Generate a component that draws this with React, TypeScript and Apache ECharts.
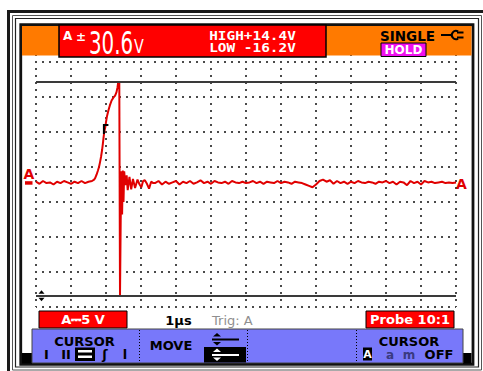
import React, { useEffect, useRef } from 'react';
import * as echarts from 'echarts';

// ---- waveform data: [time (µs), volts] ----
const preTrigger: [number, number][] = [
  [0.0, 0.1], [0.1, -0.2], [0.2, 0.2], [0.3, -0.1], [0.4, 0.0], [0.5, -0.3], [0.6, 0.1], [0.7, -0.1],
  [0.8, 0.2], [0.9, 0.0], [1.0, -0.2], [1.1, 0.1], [1.2, -0.1], [1.3, 0.2], [1.4, -0.1], [1.5, 0.1], [1.6, 0.2],
];
const risingEdge: [number, number][] = [
  [1.62, 0.2], [1.66, 0.4], [1.69, 0.6], [1.73, 1.1], [1.77, 1.7], [1.8, 2.2], [1.83, 2.9], [1.86, 3.7],
  [1.89, 4.7], [1.91, 5.5], [1.93, 6.4], [1.95, 7.2], [1.98, 7.9], [2.0, 8.6], [2.03, 9.5], [2.07, 10.3],
  [2.11, 11.0], [2.16, 11.7], [2.21, 12.1], [2.26, 12.4], [2.3, 12.9], [2.33, 13.6], [2.35, 14.4], [2.38, 14.2],
  [2.4, -16.2],
];
const ringing: [number, number][] = [
  [2.42, -5.4], [2.44, 1.6], [2.46, -4.6], [2.48, 1.7], [2.5, -2.8], [2.52, 1.6], [2.55, -0.4], [2.59, 1.0],
  [2.62, -1.1], [2.67, 0.8], [2.72, -1.0], [2.77, 0.5], [2.83, -0.8], [2.9, 0.4], [2.96, -0.3], [3.01, -0.7],
  [3.06, 0.2], [3.11, 0.3], [3.17, -0.2], [3.23, -0.9], [3.29, 0.1], [3.35, -0.1],
];
const tail: [number, number][] = [
  [3.4, -0.1], [3.5, 0.2], [3.6, -0.3], [3.7, 0.1], [3.8, -0.2], [3.9, 0.0], [4.0, 0.2], [4.1, -0.3], [4.2, 0.1], [4.3, -0.1],
  [4.4, 0.2], [4.5, -0.2], [4.6, 0.0], [4.7, 0.3], [4.8, -0.1], [4.9, 0.1], [5.0, -0.2], [5.1, 0.2], [5.2, 0.0], [5.3, -0.1],
  [5.4, 0.1], [5.5, -0.2], [5.6, 0.2], [5.7, 0.0], [5.8, -0.1], [5.9, 0.1], [6.0, -0.1], [6.1, 0.0], [6.2, 0.2], [6.3, -0.1],
  [6.4, 0.1], [6.5, -0.2], [6.6, 0.1], [6.7, 0.0], [6.8, -0.1], [6.9, 0.2], [7.0, -0.1], [7.1, 0.1], [7.2, 0.0], [7.3, -0.2],
  [7.4, 0.1], [7.5, 0.0], [7.6, -0.1], [7.7, -0.3], [7.8, -0.5], [7.9, -0.7], [8.0, -0.3], [8.1, 0.2], [8.2, 0.4], [8.3, 0.1],
  [8.4, 0.3], [8.5, -0.2], [8.6, 0.2], [8.7, -0.1], [8.8, 0.1], [8.9, -0.2], [9.0, 0.1], [9.1, -0.1], [9.2, 0.2], [9.3, 0.0],
  [9.4, -0.1], [9.5, 0.1], [9.6, 0.0], [9.7, -0.2], [9.8, 0.1], [9.9, 0.0], [10.0, 0.2], [10.1, -0.1], [10.2, 0.1], [10.3, -0.3],
  [10.4, 0.1], [10.5, 0.0], [10.6, -0.4], [10.7, 0.2], [10.8, -0.1], [10.9, 0.1], [11.0, -0.3], [11.1, 0.2], [11.2, 0.0], [11.3, 0.1],
  [11.4, -0.1], [11.5, 0.0], [11.6, 0.1], [11.7, -0.1], [11.8, 0.0], [11.9, -0.1], [12.0, 0.0],
];

const cursorLevels = [14.4, -16.2]; // HIGH, LOW
const triggerPoint: [number, number] = [1.94, 8.2];
const headerTexts = ['30.6', 'HIGH+14.4V', 'LOW -16.2V', 'SINGLE', 'HOLD'];
const footerTexts = ['A⎓5 V', '1µs', 'Trig: A', 'Probe 10:1'];
const menuTexts = ['CURSOR', 'MOVE', 'CURSOR', 'OFF'];

const SANS = '"DejaVu Sans"';
const MONO = '"DejaVu Sans Mono"';

function rect(x: number, y: number, w: number, h: number, fill: string, stroke?: string, lw = 1, z = 50): any {
  return { type: 'rect', z, shape: { x, y, width: w, height: h }, style: { fill, stroke: stroke || null, lineWidth: stroke ? lw : 0 } };
}
function text(x: number, y: number, t: string, font: string, fill: string, align = 'center', extra: any = {}): any {
  return {
    type: 'text', z: 60, x, y, ...extra,
    style: { text: t, font, fill, textAlign: align, textVerticalAlign: 'middle' },
  };
}
function line(x1: number, y1: number, x2: number, y2: number, stroke: string, lw = 1, dash?: number[]): any {
  return { type: 'line', z: 60, shape: { x1, y1, x2, y2 }, style: { stroke, lineWidth: lw, lineDash: dash || null } };
}
function poly(points: number[][], fill: string): any {
  return { type: 'polygon', z: 60, shape: { points }, style: { fill } };
}

export default function App() {
  const ref = useRef<HTMLDivElement>(null);
  useEffect(() => {
    if (!ref.current) return;
    const chart = echarts.init(ref.current, undefined, { renderer: 'svg' });
    const trace = [...preTrigger, ...risingEdge, ...ringing, ...tail];
    const dotted = { show: true, lineStyle: { color: '#4a4a4a', width: 2, type: [2, 5], dashOffset: 1 } };
    chart.setOption({
      animation: false,
      backgroundColor: '#ffffff',
      grid: { left: 36, top: 27, width: 420, height: 280, containLabel: false },
      xAxis: {
        type: 'value', min: 0, max: 12, interval: 1,
        axisLine: { show: false }, axisTick: { show: false }, axisLabel: { show: false }, splitLine: dotted,
      },
      yAxis: [
        {
          type: 'value', min: 0, max: 8, interval: 1,
          axisLine: { show: false }, axisTick: { show: false }, axisLabel: { show: false }, splitLine: dotted,
        },
        { type: 'value', min: -17.8, max: 22.2, show: false, splitLine: { show: false } },
      ],
      series: [
        {
          type: 'line', xAxisIndex: 0, yAxisIndex: 1, data: trace, showSymbol: false, symbol: 'none',
          lineStyle: { color: '#e00000', width: 2 }, z: 3,
          markLine: {
            silent: true, symbol: ['none', 'none'], label: { show: false },
            lineStyle: { color: '#3a3a3a', width: 2, type: 'solid' },
            data: cursorLevels.map((v) => ({ yAxis: v })),
          },
        },
      ],
    });

    const toPx = (p: [number, number]) => chart.convertToPixel({ xAxisIndex: 0, yAxisIndex: 1 }, p) as number[];
    const zeroY = toPx([0, 0])[1];
    const lowY = toPx([0, cursorLevels[1]])[1];
    const trig = toPx(triggerPoint);

    const g: any[] = [];
    // frame
    g.push({ type: 'rect', z: 40, shape: { x: 8.5, y: 11.5, width: 480, height: 370 }, style: { fill: 'none', stroke: '#1a1a1a', lineWidth: 3 } });
    g.push({ type: 'rect', z: 40, shape: { x: 12.5, y: 15.5, width: 469, height: 354.5 }, style: { fill: 'none', stroke: '#555', lineWidth: 1 } });
    g.push({ type: 'rect', z: 40, shape: { x: 15.5, y: 18.5, width: 463, height: 348.5 }, style: { fill: 'none', stroke: '#222', lineWidth: 1.2 } });
    g.push({ type: 'rect', z: 40, shape: { x: 20.75, y: 24.75, width: 452.25, height: 339.5 }, style: { fill: 'none', stroke: '#111', lineWidth: 2.8 } });
    // header
    g.push(rect(22, 26, 449.5, 29.5, '#ff7a00'));
    g.push(rect(59, 25, 267, 32, '#ff0000', '#000', 1.5));
    g.push(text(63, 36, 'A', `bold 12px ${SANS}`, '#fff', 'left'));
    g.push(text(76, 37, '±', `bold 12px ${SANS}`, '#fff', 'left'));
    g.push(text(89, 42.5, headerTexts[0], `32px ${SANS}`, '#fff', 'left', { scaleX: 0.62 }));
    g.push(text(134, 46.5, 'V', `19px ${SANS}`, '#fff', 'left', { scaleX: 0.75 }));
    g.push(text(252.5, 35.5, headerTexts[1], `bold 12px ${MONO}`, '#fff', 'center', { scaleX: 1.2 }));
    g.push(text(252.5, 48, headerTexts[2], `bold 12px ${MONO}`, '#fff', 'center', { scaleX: 1.2 }));
    g.push(text(380, 35.5, headerTexts[3], `bold 13.5px ${SANS}`, '#000', 'left'));
    g.push(line(441, 35, 451, 35, '#000', 2));
    g.push({ type: 'arc', z: 60, shape: { cx: 456, cy: 35, r: 4.2, startAngle: Math.PI / 3, endAngle: (5 * Math.PI) / 3, clockwise: true }, style: { fill: 'none', stroke: '#000', lineWidth: 2 } });
    g.push(line(457, 32.5, 463.5, 32.5, '#000', 2));
    g.push(line(457, 37.5, 463.5, 37.5, '#000', 2));
    g.push(rect(381, 43, 45, 13.5, '#f010f0', '#000', 1));
    g.push(text(403.5, 50, headerTexts[4], `bold 12px ${SANS}`, '#fff', 'center'));
    // zero-level markers
    g.push(text(28.8, zeroY - 8, 'A', `bold 14px ${SANS}`, '#e00000', 'center'));
    g.push(rect(25, zeroY - 1.2, 7.5, 3.5, '#e00000', undefined, 0, 60));
    g.push(text(461.5, zeroY + 2, 'A', `bold 14px ${SANS}`, '#e00000', 'center'));
    // trigger mark
    g.push({ type: 'polyline', z: 60, shape: { points: [[trig[0], trig[1] + 9], [trig[0], trig[1]], [trig[0] + 4.5, trig[1]]] }, style: { fill: 'none', stroke: '#000', lineWidth: 2 } });
    // low cursor arrows
    g.push(poly([[38.5, lowY - 2], [44.5, lowY - 2], [41.5, lowY - 5.5]], '#000'));
    g.push(poly([[38.5, lowY + 2], [44.5, lowY + 2], [41.5, lowY + 5.5]], '#000'));
    // footer
    g.push(rect(39, 311, 88, 17, '#ff0000', '#000', 1));
    g.push(text(83, 319.5, footerTexts[0], `bold 13px ${SANS}`, '#fff', 'center'));
    g.push(text(178.5, 320, footerTexts[1], `bold 13px ${SANS}`, '#000', 'center'));
    g.push(text(212, 320, footerTexts[2], `13px ${SANS}`, '#8f8f8f', 'left'));
    g.push(rect(366, 311, 88, 17, '#ff0000', '#000', 1));
    g.push(text(410, 319.5, footerTexts[3], `bold 13px ${SANS}`, '#fff', 'center'));
    // menu bar
    g.push(rect(22, 353, 449.5, 10.5, '#000'));
    g.push(rect(32, 329, 431, 34, '#7878fa', '#444', 1));
    [139.5, 247.5, 356.5].forEach((x) => g.push(line(x, 330, x, 362, '#000', 1, [1, 2])));
    g.push(text(84.5, 341, menuTexts[0], `bold 13px ${SANS}`, '#000', 'center'));
    g.push(text(46.5, 354.5, 'I', `bold 13px ${SANS}`, '#000', 'center'));
    g.push(text(66, 354.5, 'II', `bold 13px ${SANS}`, '#000', 'center'));
    g.push(rect(75, 347.5, 20, 13.5, '#000', undefined, 0, 55));
    g.push(rect(78, 350, 14, 2.5, '#fff', undefined, 0, 60));
    g.push(rect(78, 355.5, 14, 2.5, '#fff', undefined, 0, 60));
    g.push(text(105, 354.5, 'ʃ', `bold 13px ${SANS}`, '#000', 'center'));
    g.push(text(125, 354.5, 'l', `bold 13px ${SANS}`, '#000', 'center'));
    g.push(text(171, 345, menuTexts[1], `bold 13px ${SANS}`, '#000', 'center'));
    g.push(poly([[213, 336.5], [221, 336.5], [217, 333]], '#000'));
    g.push(line(212, 339.5, 239, 339.5, '#000', 2));
    g.push(poly([[213, 342], [221, 342], [217, 345.5]], '#000'));
    g.push(rect(204, 347, 42, 15.5, '#000', undefined, 0, 55));
    g.push(poly([[213, 352], [221, 352], [217, 348.5]], '#fff'));
    g.push(line(212, 355, 239, 355, '#fff', 2));
    g.push(poly([[213, 357.5], [221, 357.5], [217, 361]], '#fff'));
    g.push(text(409, 341, menuTexts[2], `bold 13px ${SANS}`, '#000', 'center'));
    g.push(rect(363, 347.5, 9, 13, '#000', undefined, 0, 55));
    g.push(text(367.5, 354.5, 'A', `bold 11px ${SANS}`, '#fff', 'center'));
    g.push(text(390, 354.5, 'a', `bold 12px ${SANS}`, '#3a3a80', 'center'));
    g.push(text(409, 354.5, 'm', `bold 12px ${SANS}`, '#3a3a80', 'center'));
    g.push(text(439, 354.5, menuTexts[3], `bold 13px ${SANS}`, '#000', 'center'));

    chart.setOption({ graphic: { elements: g } });
    return () => chart.dispose();
  }, []);
  return <div ref={ref} style={{ position: 'fixed', left: 0, top: 0, width: 483, height: 371 }} />;
}
